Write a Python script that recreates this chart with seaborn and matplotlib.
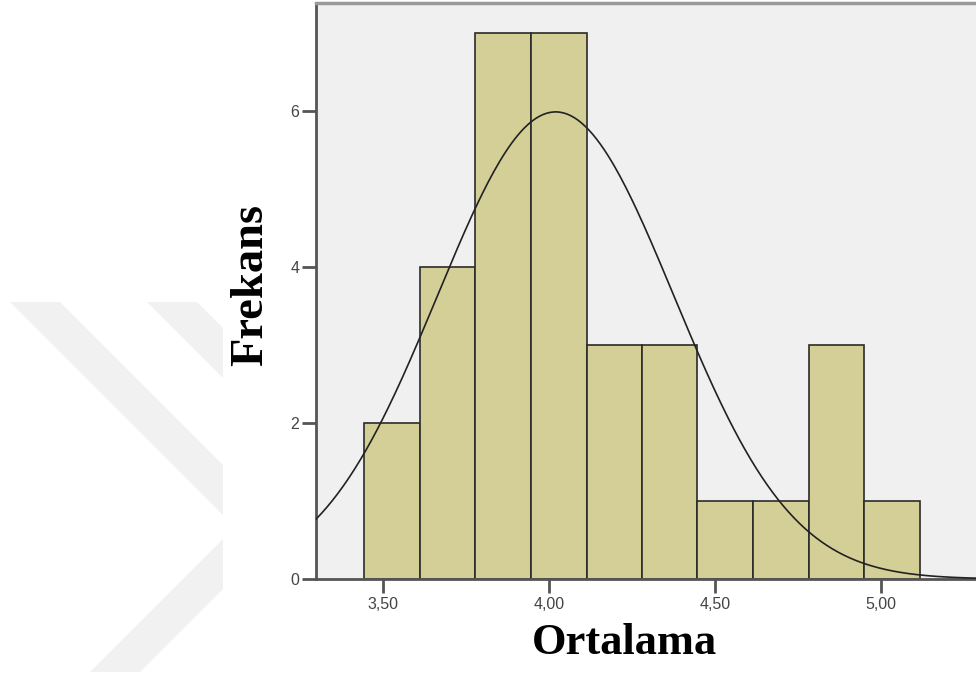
import numpy as np
import pandas as pd
import matplotlib
matplotlib.use("Agg")
import matplotlib.pyplot as plt
from matplotlib.patches import Polygon
import seaborn as sns

# Histogram of the "Ortalama" scores (frequency per bin)
bin_edges = [3.443, 3.610, 3.778, 3.945, 4.113, 4.280, 4.447, 4.615, 4.782, 4.950, 5.117]
counts = [2, 4, 7, 7, 3, 3, 1, 1, 3, 1]

# Normal curve parameters
mean_val = 4.02
sd_val = 0.356

x_ticks = [3.5, 4.0, 4.5, 5.0]
x_tick_labels = ["3,50", "4,00", "4,50", "5,00"]
y_ticks = [0, 2, 4, 6]

sns.set_theme(style="white")
plt.rcParams["font.family"] = ["Liberation Sans", "DejaVu Sans"]

W, H = 976, 673
fig = plt.figure(figsize=(W / 100, H / 100), dpi=100)
fig.patch.set_facecolor("white")

# faint chevron shapes in the left margin
band = "#f1f1f1"
chev = [
    [(10, 302), (60, 302), (223, 465), (223, 515)],
    [(147, 302), (197, 302), (223, 328), (223, 378)],
    [(90, 672), (140, 672), (223, 589), (223, 539)],
]
for pts in chev:
    fig.patches.append(Polygon([(x / W, 1 - y / H) for x, y in pts],
                               closed=True, transform=fig.transFigure,
                               facecolor=band, edgecolor="none", zorder=0))

left, right, top, bottom = 316, 990, 3, 579
ax = fig.add_axes([left / W, 1 - bottom / H, (right - left) / W, (bottom - top) / H])
ax.set_facecolor("#f0f0f0")

centers = [(a + b) / 2 for a, b in zip(bin_edges[:-1], bin_edges[1:])]
df = pd.DataFrame({"Ortalama": centers, "Frekans": counts})
sns.histplot(data=df, x="Ortalama", weights="Frekans", bins=bin_edges,
             color="#d3cf97", alpha=1.0, edgecolor="#2b2b2b", linewidth=1.2,
             ax=ax, zorder=2)

# fitted normal curve scaled to frequencies
bw = bin_edges[1] - bin_edges[0]
xs = np.linspace(3.2, 5.4, 400)
ys = sum(counts) * bw / (sd_val * np.sqrt(2 * np.pi)) * np.exp(-0.5 * ((xs - mean_val) / sd_val) ** 2)
ax.plot(xs, ys, color="#222222", linewidth=1.2, zorder=3)

x0 = 3.5 - (383 - left) / 332
x1 = x0 + (right - left) / 332
ax.set_xlim(x0, x1)
ax.set_ylim(0, (bottom - top) / 78)

ax.set_xticks(x_ticks)
ax.set_xticklabels(x_tick_labels)
ax.set_yticks(y_ticks)
ax.set_yticklabels([str(v) for v in y_ticks])
ax.tick_params(axis="x", length=10, width=2, color="#555555", labelsize=11.5,
               labelcolor="#444444", pad=3, direction="out", bottom=True)
ax.tick_params(axis="y", length=10, width=2, color="#555555", labelsize=11.5,
               labelcolor="#444444", pad=2, direction="out", left=True)

ax.set_xlabel("")
ax.set_ylabel("")
for s in ["left", "bottom"]:
    ax.spines[s].set_color("#555555")
    ax.spines[s].set_linewidth(2)
ax.spines["top"].set_color("#999999")
ax.spines["top"].set_linewidth(2.5)
ax.spines["right"].set_visible(False)

fig.text(624 / W, 1 - 643 / H, "Ortalama", ha="center", va="center",
         fontsize=32, fontweight="bold", family="Liberation Serif", color="black")
fig.text(251 / W, 1 - 285 / H, "Frekans", ha="center", va="center", rotation=90,
         fontsize=33.5, fontweight="bold", family="Liberation Serif", color="black")

fig.savefig("out.png", dpi=100)
